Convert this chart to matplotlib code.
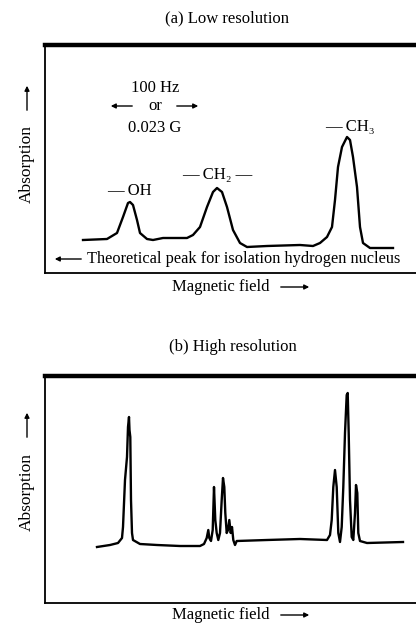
import matplotlib
matplotlib.use('Agg')
import matplotlib.pyplot as plt

plt.rcParams['font.family'] = ['Liberation Serif', 'DejaVu Serif']

# (a) low resolution trace: field position, absorption height
field_a = [83, 107, 117, 123, 128, 130, 133, 137, 140, 147, 153, 163, 187, 193, 200,
           207, 213, 217, 222, 227, 233, 240, 247, 267, 300, 313, 320, 327, 332, 335,
           338, 342, 347, 350, 353, 357, 360, 363, 370, 393]
absorb_a = [33, 34, 40, 56, 70, 71, 68, 53, 40, 34, 33, 35, 35, 38, 46,
            66, 81, 85, 81, 66, 43, 30, 26, 27, 28, 27, 30, 36, 46, 73,
            106, 126, 136, 133, 116, 86, 46, 30, 25, 25]

# (b) high resolution trace
field_b = [97, 110, 118, 122, 123, 125, 127, 128, 129, 129.5, 130.3, 131, 132, 133, 140,
           157, 180, 200, 204, 206.7, 208.3, 209.3, 211, 212.7, 214, 215.3, 216.7, 218.3, 220, 221.7,
           223, 224.3, 225.3, 226.7, 228, 229.3, 230.7, 232, 233.3, 235, 236.7, 267, 300, 327, 330,
           331.7, 333.3, 335, 336.7, 338.3, 340, 341.7, 343.3, 345, 346.7, 347.7, 348.7, 350, 351.7, 353.3,
           355, 356, 357.3, 358.3, 360, 367, 403]
absorb_b = [56, 58, 60, 65, 76, 123, 146, 176, 186, 173, 166, 103, 70, 63, 59,
            58, 57, 57, 59, 65, 73, 65, 62, 73, 116, 83, 70, 63, 70, 103,
            125, 116, 90, 70, 73, 83, 70, 76, 63, 58, 62, 63, 64, 63, 68,
            83, 116, 133, 116, 70, 61, 76, 116, 170, 208, 210, 170, 103, 66, 63,
            90, 118, 110, 70, 62, 60, 61]

W, H = 416, 624
FS = 12
fig = plt.figure(figsize=(W / 100, H / 100), dpi=100)
Arrow = matplotlib.patches.FancyArrowPatch


def panel(top, bottom, field, absorb, title, title_y, title_x, ylab_y, arrow_y):
    ax = fig.add_axes([45 / W, 1 - bottom / H, 390 / W, (bottom - top) / H])
    ax.plot(field, absorb, color='black', lw=1.7, solid_joinstyle='round')
    ax.set_xlim(45, 435)
    ax.set_ylim(0, bottom - top)
    ax.set_xticks([])
    ax.set_yticks([])
    ax.spines['top'].set_linewidth(3.2)
    for s in ['left', 'bottom', 'right']:
        ax.spines[s].set_linewidth(1.3)
    fig.text(title_x / W, 1 - title_y / H, title, ha='center', va='center', fontsize=FS)
    fig.text(27 / W, 1 - ylab_y / H, 'Absorption', rotation=90, ha='center', va='center',
             fontsize=FS + 0.5)
    fig.patches.append(Arrow((27 / W, 1 - arrow_y[0] / H), (27 / W, 1 - arrow_y[1] / H),
                             transform=fig.transFigure, arrowstyle='-|>', mutation_scale=7,
                             lw=1.0, color='black'))
    return ax


ax_a = panel(45, 273, field_a, absorb_a, '(a) Low resolution', 18, 227, 164, (113, 83))
ax_b = panel(376, 603, field_b, absorb_b, '(b) High resolution', 347, 233, 492, (440, 410))


def xlab(y):
    fig.text(172 / W, 1 - y / H, 'Magnetic field', ha='left', va='center', fontsize=FS)
    fig.patches.append(Arrow((278 / W, 1 - y / H), (312 / W, 1 - y / H),
                             transform=fig.transFigure, arrowstyle='-|>', mutation_scale=7,
                             lw=1.0, color='black'))


xlab(287)
xlab(615)


# annotations in panel (a), positions in pixel units of the axes
def pt(x, y):
    return (x, 273 - y)


ax_a.text(*pt(155, 88), '100 Hz', ha='center', va='center', fontsize=FS)
ax_a.text(*pt(155, 106), 'or', ha='center', va='center', fontsize=FS)
ax_a.text(*pt(155, 128), '0.023 G', ha='center', va='center', fontsize=FS)
ax_a.annotate('', xy=pt(108, 106), xytext=pt(135, 106),
              arrowprops=dict(arrowstyle='-|>', mutation_scale=7, lw=1.0, color='black'))
ax_a.annotate('', xy=pt(201, 106), xytext=pt(174, 106),
              arrowprops=dict(arrowstyle='-|>', mutation_scale=7, lw=1.0, color='black'))
ax_a.text(*pt(107, 191), '— OH', ha='left', va='center', fontsize=FS)
ax_a.text(*pt(217, 175), '— CH₂ —', ha='center', va='center', fontsize=FS)
ax_a.text(*pt(325, 127), '— CH₃', ha='left', va='center', fontsize=FS)
ax_a.annotate('', xy=pt(52, 259), xytext=pt(84, 259),
              arrowprops=dict(arrowstyle='-|>', mutation_scale=7, lw=1.0, color='black'))
ax_a.text(*pt(87, 259), 'Theoretical peak for isolation hydrogen nucleus', ha='left',
          va='center', fontsize=11.8)

fig.savefig('out.png', dpi=100)
